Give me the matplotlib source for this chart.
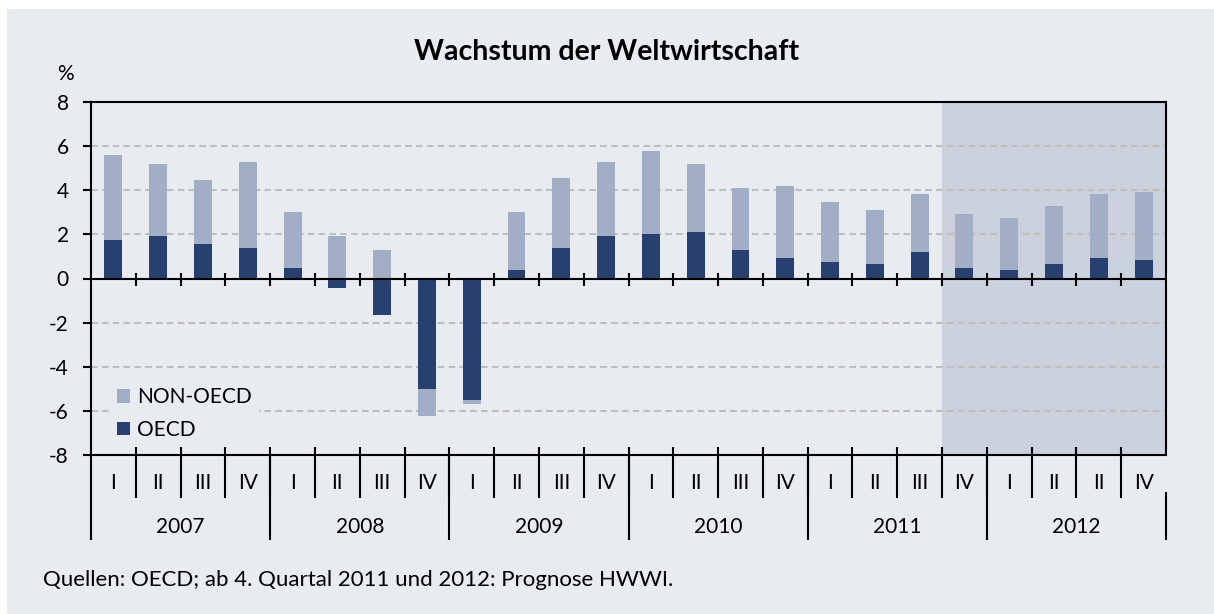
import matplotlib
matplotlib.use("Agg")
import matplotlib.pyplot as plt
from matplotlib.patches import Rectangle
from matplotlib.transforms import blended_transform_factory
import numpy as np

plt.rcParams['font.family'] = ['Lato', 'DejaVu Sans']
plt.rcParams['axes.unicode_minus'] = False

# data: quarterly growth contributions, %
quarters = ["I", "II", "III", "IV"] * 5 + ["I", "II", "II", "IV"]
years = ["2007", "2008", "2009", "2010", "2011", "2012"]
oecd = [1.75, 1.94, 1.57, 1.39,
        0.47, -0.43, -1.67, -5.0,
        -5.5, 0.38, 1.39, 1.93,
        2.03, 2.12, 1.30, 0.93,
        0.75, 0.66, 1.20, 0.47,
        0.38, 0.66, 0.93, 0.84]
non_oecd = [3.83, 3.27, 2.91, 3.91,
            2.56, 1.94, 1.30, -1.25,
            -0.2, 2.65, 3.18, 3.37,
            3.73, 3.09, 2.82, 3.28,
            2.73, 2.45, 2.64, 2.46,
            2.36, 2.63, 2.91, 3.09]
forecast_start = 19  # ab 4. Quartal 2011

bg = "#E8EBF0"
shade = "#CBD1DD"
dark = "#28406F"
light = "#A2AEC5"
grid_col = "#BEBEBE"

fig = plt.figure(figsize=(12.14, 6.14), dpi=100, facecolor="white")
fig.patches.append(Rectangle((7 / 1214, 0), 1 - 7 / 1214, 1 - 9 / 614,
                             transform=fig.transFigure, facecolor=bg,
                             edgecolor="none", zorder=-10))

ax = fig.add_axes([91 / 1214, 1 - 455 / 614, 1075 / 1214, 353 / 614])
ax.set_facecolor(bg)

x = np.arange(len(oecd))
oecd = np.array(oecd)
non_oecd = np.array(non_oecd)
# non-OECD part sits on top of OECD part when both share a sign
bottoms = np.where(np.sign(oecd) == np.sign(non_oecd), oecd, 0)

ax.axvspan(forecast_start - 0.5, len(x) - 0.5, color=shade, zorder=0, lw=0)
for g in [6, 4, 2, -2, -4, -6]:
    ax.axhline(g, color=grid_col, lw=1.5, ls=(0, (3.2, 2.0)), zorder=1)

b_oecd = ax.bar(x, oecd, width=0.4, color=dark, zorder=2)
b_non = ax.bar(x, non_oecd, width=0.4, bottom=bottoms, color=light, zorder=2)

ax.axhline(0, color="black", lw=1.5, zorder=3)
ax.set_xlim(-0.5, len(x) - 0.5)
ax.set_ylim(-8, 8)
ax.set_yticks(range(-8, 9, 2))
ax.set_xticks([])
ax.tick_params(axis="y", length=6, width=1.5, pad=10, labelsize=15)
for s in ax.spines.values():
    s.set_linewidth(1.5)
    s.set_color("black")

# small ticks on the zero line
ax.vlines(x[:-1] + 0.5, -0.36, 0.23, color="black", lw=1.5, zorder=3)

# category axis drawn below the plot
tr = blended_transform_factory(ax.transData, ax.transAxes)
ax.vlines(x[:-1] + 0.5, -0.122, 0.0227, color="black", lw=1.5,
          transform=tr, clip_on=False)
year_edges = np.arange(-0.5, len(x), 4)
ax.vlines(year_edges[:-1], -0.241, 0, color="black", lw=1.5,
          transform=tr, clip_on=False)
ax.vlines([len(x) - 0.5], -0.241, -0.105, color="black", lw=1.5,
          transform=tr, clip_on=False)
for xi, q in zip(x, quarters):
    ax.text(xi, -0.079, q, transform=tr, ha="center", va="center", fontsize=15)
for i, yr in enumerate(years):
    ax.text(i * 4 + 1.5, -0.204, yr, transform=tr, ha="center", va="center",
            fontsize=15)

leg = ax.legend([b_non, b_oecd], ["NON-OECD", "OECD"], loc="upper left",
                bbox_to_anchor=(0.0177, 0.212), fontsize=15, frameon=True,
                facecolor=bg, edgecolor="none", framealpha=1, fancybox=False,
                handlelength=0.6, handleheight=0.6, handletextpad=0.35,
                labelspacing=0.6, borderpad=0.35, borderaxespad=0)
leg.set_zorder(4)

fig.text(57 / 1214, 1 - 74 / 614, "%", fontsize=15, ha="left", va="center")
fig.text(0.5, 1 - 52 / 614, "Wachstum der Weltwirtschaft", fontsize=20.5,
         fontweight="bold", ha="center", va="center")
fig.text(43 / 1214, 1 - 580 / 614,
         "Quellen: OECD; ab 4. Quartal 2011 und 2012: Prognose HWWI.",
         fontsize=16, ha="left", va="center")

fig.savefig("out.png", dpi=100, facecolor=fig.get_facecolor())
plt.close(fig)
